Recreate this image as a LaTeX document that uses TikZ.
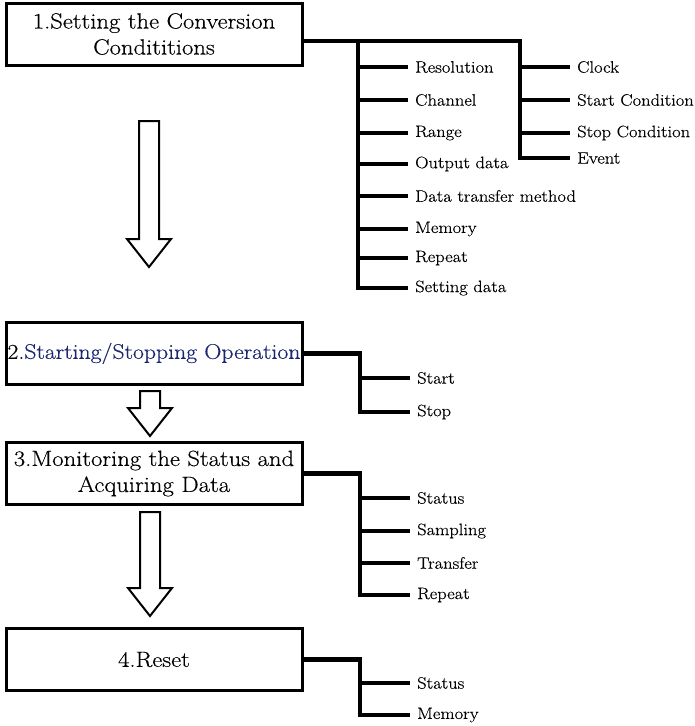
\documentclass[tikz,border=0pt]{standalone}
\usepackage{fontspec}
\setmainfont{Latin Modern Roman}[FakeStretch=1.12, FakeBold=0.4]
\usepackage{xcolor}
\usepackage{tikz}
\usetikzlibrary{positioning}
\definecolor{opblue}{RGB}{28,38,112}
\tikzstyle{stepbox} = [rectangle, draw=black, line width=3pt, minimum width=296pt,
    minimum height=62pt, align=center, inner sep=0pt, font=\fontsize{22}{26}\selectfont]
\tikzstyle{item} = [anchor=west, inner xsep=7pt, inner ysep=0pt, font=\fontsize{16.5}{18}\selectfont]
\tikzstyle{branch} = [line width=4.5pt, line join=miter]
\tikzstyle{flowarrow} = [draw=black, line width=2pt, fill=white, line join=miter]

% hollow down arrow: centre x, top, head base, tip
\newcommand{\hollowarrow}[4]{%
  \draw[flowarrow] (#1-10,#2) -- (#1+10,#2) -- (#1+10,#3) -- (#1+22,#3)
    -- (#1,#4) -- (#1-22,#3) -- (#1-10,#3) -- cycle;}

\begin{document}
\begin{tikzpicture}[x=1pt, y=-1pt]
  \useasboundingbox (0,0) rectangle (694,726);

  % Step boxes
  \node[stepbox] (b1) at (154,34) {1.Setting the Conversion\\Condititions};
  \node[stepbox, font=\fontsize{21.2}{26}\selectfont] (b2) at (154,353.5)
    {2.\textcolor{opblue}{Starting/Stopping Operation}};
  \node[stepbox] (b3) at (154,473.5) {3.Monitoring the Status and\\Acquiring Data};
  \node[stepbox] (b4) at (154,659.5) {4.Reset};

  % Flow arrows
  \hollowarrow{149}{121}{239}{267}
  \hollowarrow{150}{391}{408}{436}
  \hollowarrow{150}{512}{588}{616}

  % Step 1 items
  \node[item] (res)  at (408,67)  {Resolution};
  \node[item] (chan) at (408,100) {Channel};
  \node[item] (rng)  at (408,133) {Range};
  \node[item] (outd) at (408,164) {Output data};
  \node[item] (dtm)  at (408,196) {Data transfer method};
  \node[item] (mem)  at (408,229) {Memory};
  \node[item] (rep)  at (408,258) {Repeat};
  \node[item] (setd) at (408,288) {Setting data};
  \node[item] (clk)  at (570,67)  {Clock};
  \node[item] (stc)  at (570,100) {Start Condition};
  \node[item] (spc)  at (570,133) {Stop Condition};
  \node[item] (evt)  at (570,158) {Event};

  \coordinate (j1) at (358,41);
  \coordinate (k1) at (520,41);
  \draw[branch] ([yshift=-7pt]b1.east) -- (k1) -- (k1 |- evt.west) -- (evt.west);
  \draw[branch] (j1) -- (j1 |- setd.west) -- (setd.west);
  \draw[branch] (res.west -| j1) -- (res.west);
  \draw[branch] (chan.west -| j1) -- (chan.west);
  \draw[branch] (rng.west -| j1) -- (rng.west);
  \draw[branch] (outd.west -| j1) -- (outd.west);
  \draw[branch] (dtm.west -| j1) -- (dtm.west);
  \draw[branch] (mem.west -| j1) -- (mem.west);
  \draw[branch] (rep.west -| j1) -- (rep.west);
  \draw[branch] (clk.west -| k1) -- (clk.west);
  \draw[branch] (stc.west -| k1) -- (stc.west);
  \draw[branch] (spc.west -| k1) -- (spc.west);

  % Step 2 items
  \node[item] (start) at (410,378) {Start};
  \node[item] (stop)  at (410,412) {Stop};
  \coordinate (j2) at (360,353.5);
  \draw[branch] (b2.east) -- (j2) -- (j2 |- stop.west) -- (stop.west);
  \draw[branch] (start.west -| j2) -- (start.west);

  % Step 3 items
  \node[item] (stat3)  at (410,498) {Status};
  \node[item] (samp)   at (410,531) {Sampling};
  \node[item] (trans)  at (410,563) {Transfer};
  \node[item] (rep3)   at (410,595) {Repeat};
  \coordinate (j3) at (360,473.5);
  \draw[branch] (b3.east) -- (j3) -- (j3 |- rep3.west) -- (rep3.west);
  \draw[branch] (stat3.west -| j3) -- (stat3.west);
  \draw[branch] (samp.west -| j3) -- (samp.west);
  \draw[branch] (trans.west -| j3) -- (trans.west);

  % Step 4 items
  \node[item] (stat4) at (410,683) {Status};
  \node[item] (mem4)  at (410,715) {Memory};
  \coordinate (j4) at (360,659.5);
  \draw[branch] (b4.east) -- (j4) -- (j4 |- mem4.west) -- (mem4.west);
  \draw[branch] (stat4.west -| j4) -- (stat4.west);
\end{tikzpicture}
\end{document}
